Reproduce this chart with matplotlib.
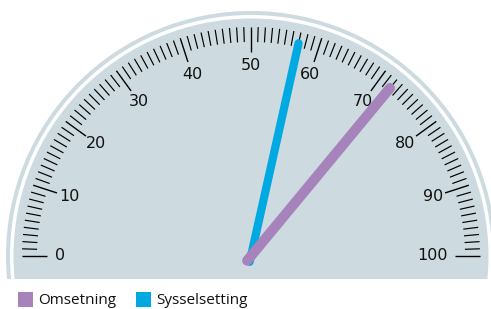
import numpy as np
import matplotlib
matplotlib.use("Agg")
import matplotlib.pyplot as plt
from matplotlib.patches import Circle, Rectangle

# ---- data ----
series_names = ["Omsetning", "Sysselsetting"]
series_values = [72, 57]
series_colors = ["#a683bb", "#00a9e2"]
tick_values = [0, 10, 20, 30, 40, 50, 60, 70, 80, 90, 100]
tick_labels = ["0", "10", "20", "30", "40", "50", "60", "70", "80", "90", "100"]
gauge_min, gauge_max = 0, 100

W, H = 491, 309
fig = plt.figure(figsize=(W / 100, H / 100), dpi=100)
ax = fig.add_axes([0, 0, 1, 1])
ax.set_xlim(0, W)
ax.set_ylim(H, 0)
ax.set_aspect("equal")
ax.axis("off")

cx, cy = 251, 256
bottom = 279
fill_col = "#cddbe0"

clip = Rectangle((0, 0), W, bottom, transform=ax.transData)
for r, c in [(245, fill_col), (241, "white"), (237.5, fill_col)]:
    p = Circle((cx, cy), r, facecolor=c, edgecolor="none", zorder=1)
    ax.add_patch(p)
    p.set_clip_path(clip)

def ang(v):
    return np.pi * (1 - (v - gauge_min) / (gauge_max - gauge_min))

# ticks
for v in range(gauge_min, gauge_max + 1):
    a = ang(v)
    major = v % 10 == 0
    r0, r1 = (229, 204) if major else (229, 214)
    ax.plot([cx + r0 * np.cos(a), cx + r1 * np.cos(a)],
            [cy - r0 * np.sin(a), cy - r1 * np.sin(a)],
            color="black", lw=1.0 if major else 0.85, zorder=2,
            solid_capstyle="butt")

for v, lab in zip(tick_values, tick_labels):
    a = ang(v)
    r = 191 if len(lab) < 3 else 182
    ax.text(cx + r * np.cos(a), cy - r * np.sin(a), lab, ha="center",
            va="center", fontsize=11.5, family="DejaVu Sans", color="#111111",
            zorder=3)

# needles (Sysselsetting drawn first, Omsetning on top)
widths = [7.3, 5.9]
for name, v, c, lw in reversed(list(zip(series_names, series_values, series_colors, widths))):
    a = ang(v)
    L, rear = 218, 6
    ax.plot([cx - rear * np.cos(a), cx + L * np.cos(a)],
            [cy + rear * np.sin(a), cy - L * np.sin(a)],
            color=c, lw=lw, solid_capstyle="round", zorder=4)

# legend
lx = [18, 136]
for x0, name, c in zip(lx, series_names, series_colors):
    ax.add_patch(Rectangle((x0, 292), 15, 15, facecolor=c, edgecolor="none"))
    ax.text(x0 + 20, 304.5, name, ha="left", va="baseline", fontsize=11,
            family="Open Sans", color="#111111")

fig.savefig("out.png", dpi=100)
